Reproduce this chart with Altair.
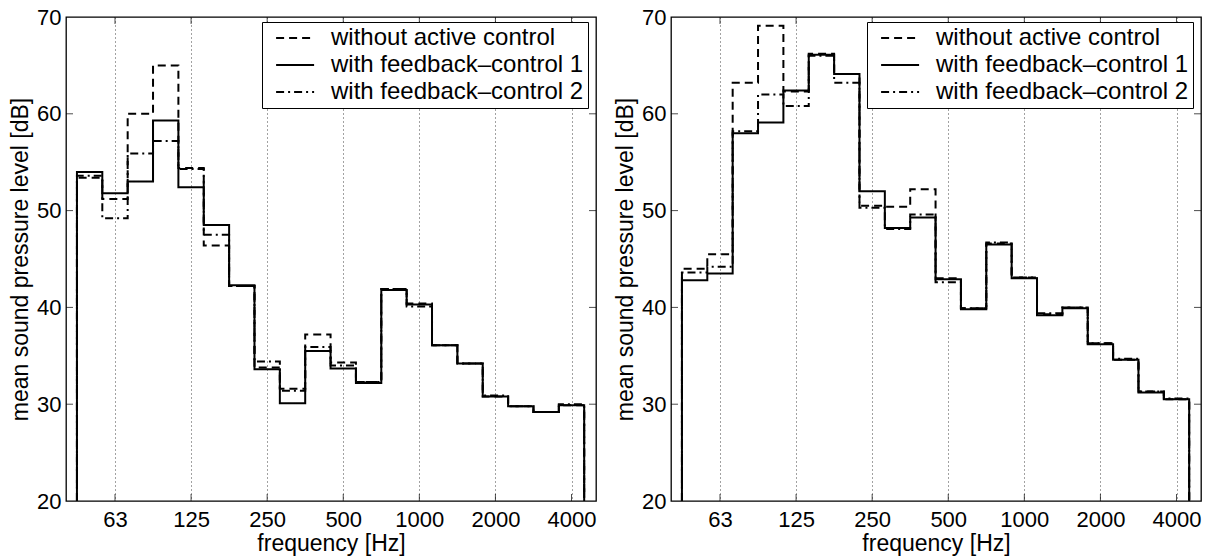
import math
import altair as alt
import pandas as pd

# third-octave band centre frequencies (nominal labels)
bands = [50, 63, 80, 100, 125, 160, 200, 250, 315, 400, 500, 630, 800,
         1000, 1250, 1600, 2000, 2500, 3150, 4000]
series = ["without active control", "with feedback–control 1", "with feedback–control 2"]

# left panel levels [dB]
left_without = [53.4, 51.2, 60.0, 65.0, 54.4, 46.4, 42.2, 33.8, 31.6, 37.2,
                34.3, 32.3, 41.9, 40.4, 36.1, 34.2, 30.8, 29.8, 29.2, 29.9]
left_fb1 = [54.0, 51.8, 53.0, 59.3, 52.4, 48.5, 42.3, 33.6, 30.1, 35.5,
            33.7, 32.2, 41.8, 40.3, 36.1, 34.2, 30.8, 29.8, 29.2, 29.9]
left_fb2 = [53.6, 49.2, 55.9, 57.2, 54.3, 47.5, 42.2, 34.4, 31.4, 35.9,
            34.0, 32.3, 41.9, 40.1, 36.1, 34.2, 30.9, 29.8, 29.2, 30.0]

# right panel levels [dB]
right_without = [44.0, 45.5, 63.2, 69.1, 62.3, 66.2, 64.1, 50.5, 50.4, 52.2,
                 43.0, 39.9, 46.6, 43.1, 39.3, 40.0, 36.3, 34.6, 31.3, 30.5]
right_fb1 = [42.8, 43.5, 58.0, 59.1, 62.4, 66.1, 64.1, 52.0, 48.2, 49.3,
             42.9, 39.8, 46.5, 43.0, 39.2, 39.9, 36.2, 34.6, 31.2, 30.5]
right_fb2 = [43.6, 44.2, 58.2, 62.0, 60.8, 66.0, 63.2, 50.3, 48.1, 49.6,
             42.6, 39.9, 46.7, 43.1, 39.4, 40.0, 36.3, 34.7, 31.3, 30.6]

x_ticks = [62.5, 125, 250, 500, 1000, 2000, 4000]
y_ticks = [20, 30, 40, 50, 60, 70]
x_domain = [40, 5000]
y_domain = [20, 70]

FONT = "Liberation Sans"
W, H = 530, 484


def step_frame(vals, name):
    rows = []
    base = y_domain[0]
    order = 0
    for i, (nom, v) in enumerate(zip(bands, vals)):
        k = round(3 * math.log2(nom / 1000.0))
        fc = 1000.0 * 2 ** (k / 3.0)
        lo, hi = fc * 2 ** (-1 / 6), fc * 2 ** (1 / 6)
        if i == 0:
            rows.append((lo, base, order)); order += 1
        rows.append((lo, v, order)); order += 1
        rows.append((hi, v, order)); order += 1
        if i == len(bands) - 1:
            rows.append((hi, base, order)); order += 1
    df = pd.DataFrame(rows, columns=["f", "L", "o"])
    df["series"] = name
    return df


def panel(without, fb1, fb2):
    df = pd.concat([step_frame(without, series[0]),
                    step_frame(fb2, series[2]),
                    step_frame(fb1, series[1])], ignore_index=True)
    xscale = alt.Scale(type="log", domain=x_domain, nice=False, zero=False)
    yscale = alt.Scale(domain=y_domain, nice=False, zero=False)
    xaxis = alt.Axis(values=x_ticks, title="frequency [Hz]",
                     labelExpr="datum.value < 100 ? '63' : format(datum.value, 'd')",
                     ticks=False, domain=False, grid=True,
                     gridDash=[1, 3], gridColor="#444", gridWidth=1,
                     labelPadding=8, titlePadding=2)
    yaxis = alt.Axis(values=y_ticks, title="mean sound pressure level [dB]",
                     ticks=False, domain=False, grid=False,
                     labelPadding=5, titlePadding=4)

    lines = alt.Chart(df).mark_line(strokeWidth=2, color="black").encode(
        x=alt.X("f:Q", scale=xscale, axis=xaxis),
        y=alt.Y("L:Q", scale=yscale, axis=yaxis),
        strokeDash=alt.StrokeDash(
            "series:N",
            scale=alt.Scale(domain=series, range=[[8, 5], [1, 0], [8, 4, 2, 4]]),
            legend=alt.Legend(title=None, orient="none", legendX=196, legendY=5,
                              padding=4, strokeColor="black", fillColor="white",
                              symbolType="M-0.2,0H3.8", symbolSize=361,
                              symbolStrokeWidth=2, symbolStrokeColor="black",
                              labelFontSize=24, labelFont=FONT, labelColor="black",
                              labelOffset=41, labelLimit=500, rowPadding=3)),
        order="o:Q",
    )

    tdf_x = pd.DataFrame({"f": x_ticks})
    tdf_y = pd.DataFrame({"L": y_ticks[1:-1]})
    bottom = alt.Chart(tdf_x).mark_tick(orient="vertical", size=7, thickness=1,
                                        yOffset=-3.5, color="black").encode(
        x=alt.X("f:Q", scale=xscale, axis=xaxis),
        y=alt.datum(y_domain[0], scale=yscale, axis=yaxis))
    top = alt.Chart(tdf_x).mark_tick(orient="vertical", size=7, thickness=1,
                                     yOffset=3.5, color="black").encode(
        x=alt.X("f:Q", scale=xscale, axis=xaxis),
        y=alt.datum(y_domain[1], scale=yscale, axis=yaxis))
    left = alt.Chart(tdf_y).mark_tick(orient="horizontal", size=7, thickness=1,
                                      xOffset=3.5, color="black").encode(
        y=alt.Y("L:Q", scale=yscale, axis=yaxis),
        x=alt.datum(x_domain[0], scale=xscale, axis=xaxis))
    right = alt.Chart(tdf_y).mark_tick(orient="horizontal", size=7, thickness=1,
                                       xOffset=-3.5, color="black").encode(
        y=alt.Y("L:Q", scale=yscale, axis=yaxis),
        x=alt.datum(x_domain[1], scale=xscale, axis=xaxis))

    return alt.layer(lines, bottom, top, left, right).properties(width=W, height=H)


chart = alt.hconcat(
    panel(left_without, left_fb1, left_fb2),
    panel(right_without, right_fb1, right_fb2),
    spacing=16,
).resolve_scale(strokeDash="independent").resolve_legend(strokeDash="independent").properties(
    padding={"left": 8, "top": 5, "right": 2, "bottom": 0},
    background="white",
).configure_view(stroke="black", strokeWidth=1.3).configure_axis(
    labelFont=FONT, titleFont=FONT, labelFontSize=22, titleFontSize=23,
    titleFontWeight="normal", labelColor="black", titleColor="black",
)

chart.save("out.html", embed_options={"renderer": "svg", "actions": False})
